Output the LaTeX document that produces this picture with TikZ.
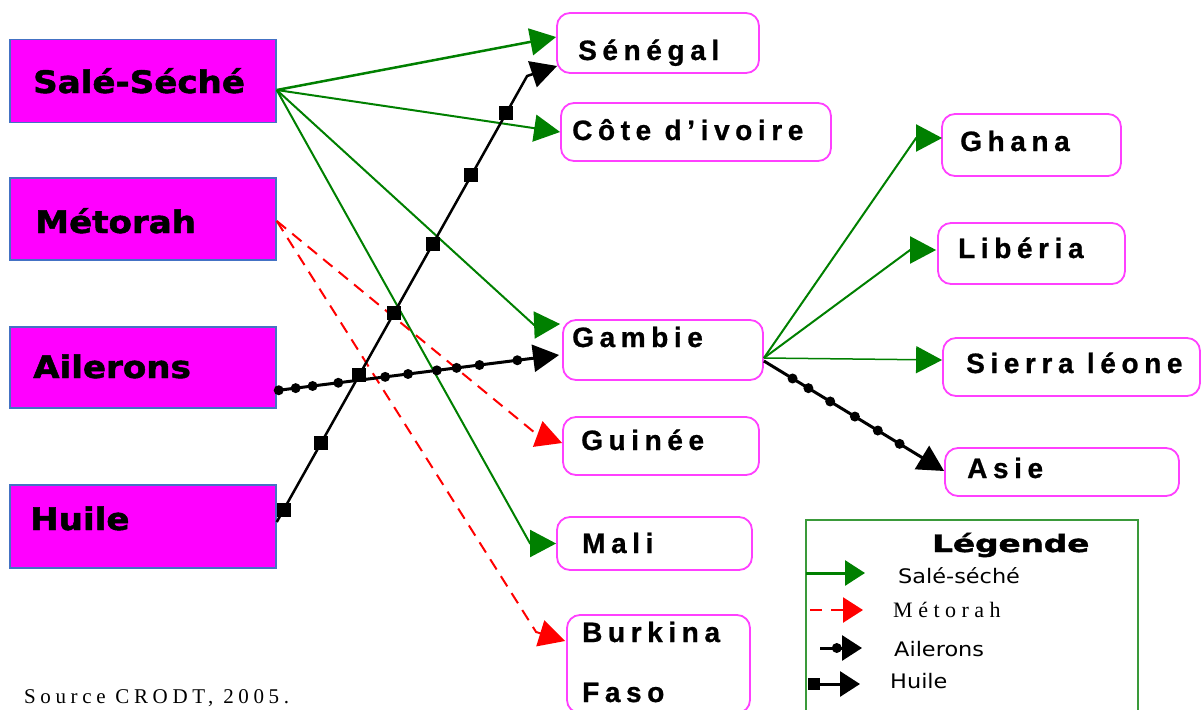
\documentclass[tikz,border=0pt]{standalone}
\usepackage{fontspec}
\usepackage{graphicx}
\usetikzlibrary{arrows.meta,calc}
\newfontfamily\lfont{DejaVu Sans}[BoldFeatures={FakeBold=1.5}]
\newfontfamily\gfont{DejaVu Sans}
\newfontfamily\rfont{Liberation Sans}[LetterSpace=20,BoldFeatures={FakeBold=0.8}]
\newfontfamily\sfont{Liberation Serif}[LetterSpace=22]
\newfontfamily\mfont{Liberation Serif}[LetterSpace=25]
\definecolor{mag}{HTML}{FF00FF}
\definecolor{rmag}{HTML}{FF40FF}
\definecolor{bblue}{HTML}{4472C4}
\definecolor{lgreen}{HTML}{008000}
\definecolor{legg}{HTML}{3A9A3A}
\begin{document}
\begin{tikzpicture}[x=1pt,y=-1pt,
 lbox/.style={draw=bblue, fill=mag, line width=1.5pt, minimum width=266pt, inner sep=0pt},
 rbox/.style={draw=rmag, fill=white, line width=1.8pt, rounded corners=13pt, inner sep=0pt},
 ltext/.style={inner sep=0pt, anchor=base west, font=\lfont\bfseries\fontsize{31pt}{35pt}\selectfont},
 rtext/.style={inner sep=0pt, anchor=base west, font=\rfont\bfseries\fontsize{28pt}{32pt}\selectfont},
 legtext/.style={inner sep=0pt, anchor=base west, font=\gfont\fontsize{20pt}{24pt}\selectfont},
 bighead/.style={-{Triangle[length=26pt,width=27pt]}},
 smallhead/.style={-{Triangle[length=20pt,width=25pt]}},
 gline/.style={draw=lgreen, line width=2pt, line join=round, bighead},
 rline/.style={draw=red, line width=2pt, dash pattern=on 12pt off 8pt, bighead},
 aline/.style={draw=black, line width=3pt, bighead},
 hline/.style={draw=black, line width=2.5pt, line join=round, bighead},
 dotm/.style={circle, fill=black, minimum size=10pt, inner sep=0pt},
 sqm/.style={rectangle, fill=black, minimum size=14pt, inner sep=0pt},
]
\useasboundingbox (0,0) rectangle (1201,709);
\fill[white] (0,0) rectangle (1201,709);

% left boxes
\node[lbox, minimum height=83pt] (sale) at (143,81) {};
\node[lbox, minimum height=82pt] (meto) at (143,219) {};
\node[lbox, minimum height=81pt] (ail) at (143,367.5) {};
\node[lbox, minimum height=83pt] (hui) at (143,526.5) {};

% right boxes
\node[rbox, minimum width=202pt, minimum height=60pt] (sen) at (658,43) {};
\node[rbox, minimum width=270pt, minimum height=58pt] (cot) at (696,132) {};
\node[rbox, minimum width=200pt, minimum height=60pt] (gam) at (663,350) {};
\node[rbox, minimum width=196pt, minimum height=58pt] (gui) at (661,446) {};
\node[rbox, minimum width=195pt, minimum height=53pt] (mal) at (654.5,543.5) {};
\node[rbox, minimum width=183pt, minimum height=98pt] (bur) at (658.5,664) {};
\node[rbox, minimum width=179pt, minimum height=62pt] (gha) at (1031.5,145) {};
\node[rbox, minimum width=187pt, minimum height=61pt] (lib) at (1031.5,253.5) {};
\node[rbox, minimum width=257pt, minimum height=58pt] (sie) at (1071.5,367) {};
\node[rbox, minimum width=234pt, minimum height=48pt] (asi) at (1062,472) {};

% legend box
\node[draw=legg, line width=2pt, minimum width=332pt, minimum height=200pt, inner sep=0pt] (leg) at (972,620) {};

% Salé-Séché connectors
\draw[gline, line width=2.5pt] ($(sale.east)+(0,9)$) -- ($(sen.west)+(0,-6)$);
\draw[gline] ($(sale.east)+(0,9)$) -- (cot.west);
\draw[gline] ($(sale.east)+(0,9)$) -- ($(gam.west)+(-28,-25)$) -- ($(gam.west)+(-2,-26)$);
\draw[gline] ($(sale.east)+(0,9)$) -- ($(mal.west)+(-26,0)$) -- (mal.west);

% Métorah connectors
\draw[rline] ($(meto.east)+(0,2)$) -- ($(gui.west)+(-27,-13)$) -- ($(gui.west)+(0,-3)$);
\draw[rline] ($(meto.east)+(0,2)$) -- ($(bur.west)+(-30,-32)$) -- ($(bur.west)+(-1,-23)$);

% Ailerons connector
\draw[aline] ($(ail.east)+(0,23)$) --
  node[dotm,pos=0.007] (ad1) {}
  node[dotm,pos=0.067] (ad2) {}
  node[dotm,pos=0.127] (ad3) {}
  node[dotm,pos=0.218] (ad4) {}
  node[dotm,pos=0.384] (ad5) {}
  node[dotm,pos=0.465] (ad6) {}
  node[dotm,pos=0.567] (ad7) {}
  node[dotm,pos=0.637] (ad8) {}
  node[dotm,pos=0.718] (ad9) {}
  node[dotm,pos=0.852] (ad10) {}
  ($(gam.west)+(-3,5)$);

% Huile connector
\draw[hline] ($(hui.east)+(0,-4.5)$) --
  node[sqm,pos=0.027] (hq1) {}
  node[sqm,pos=0.178] (hq2) {}
  node[sqm,pos=0.329] (hq3) {}
  node[sqm,pos=0.469] (hq4) {}
  node[sqm,pos=0.624] (hq5) {}
  node[sqm,pos=0.777] (hq6) {}
  node[sqm,pos=0.916] (hq7) {}
  ($(sen.west)+(-29,33)$) -- ($(sen.west)+(1,23)$);

% Gambie connectors
\draw[gline] ($(gam.east)+(0,8)$) -- ($(gha.west)+(-25,-7)$) -- ($(gha.west)+(1,-7)$);
\draw[gline] ($(gam.east)+(0,8)$) -- ($(lib.west)+(-27,-3.5)$) -- ($(lib.west)+(-1,-3.5)$);
\draw[gline, line width=1.5pt] ($(gam.east)+(0,8)$) -- ($(sie.west)+(0,-7)$);
\draw[aline] ($(gam.east)+(0,11)$) --
  node[dotm,pos=0.159] (sd1) {}
  node[dotm,pos=0.247] (sd2) {}
  node[dotm,pos=0.368] (sd3) {}
  node[dotm,pos=0.505] (sd4) {}
  node[dotm,pos=0.632] (sd5) {}
  node[dotm,pos=0.753] (sd6) {}
  ($(asi.west)+(0,-1)$);

% left texts
\node[ltext] (tsale) at (33,93) {\scalebox{1.1}[1]{Salé-Séché}};
\node[ltext] (tmeto) at (35,233) {\scalebox{1.1}[1]{Métorah}};
\node[ltext] (tail) at (33,378) {\scalebox{1.1}[1]{Ailerons}};
\node[ltext] (thui) at (30,530) {\scalebox{1.1}[1]{Huile}};

% right texts
\node[rtext] (tsen) at (578,60) {Sénégal};
\node[rtext] (tcot) at (572,140) {Côte d’ivoire};
\node[rtext] (tgam) at (572,347) {Gambie};
\node[rtext] (tgui) at (581,450) {Guinée};
\node[rtext] (tmal) at (582,553) {Mali};
\node[rtext] (tbur) at (582,642) {Burkina};
\node[rtext] (tfas) at (582,702) {Faso};
\node[rtext] (tgha) at (960,151) {Ghana};
\node[rtext] (tlib) at (958,258) {Libéria};
\node[rtext] (tsie) at (966,373) {Sierra léone};
\node[rtext] (tasi) at (967,478) {Asie};

% legend content
\node[inner sep=0pt, anchor=base west, font=\lfont\bfseries\fontsize{24pt}{28pt}\selectfont] (legt) at (932,552) {\scalebox{1.36}[1]{Légende}};
\coordinate (lg1) at (806,573); \coordinate (lg2) at (865,573);
\draw[draw=lgreen, line width=3pt, smallhead] (lg1) -- (lg2);
\coordinate (lr1) at (810,610); \coordinate (lr2) at (863,610);
\draw[draw=red, line width=2.5pt, dash pattern=on 12pt off 9pt, smallhead] (lr1) -- (lr2);
\coordinate (la1) at (820,648); \coordinate (la2) at (862,648);
\draw[draw=black, line width=3pt, smallhead] (la1) -- node[dotm, pos=0.4] (lad) {} (la2);
\coordinate (lh1) at (814,684); \coordinate (lh2) at (860,684);
\draw[draw=black, line width=3pt, smallhead] (lh1) -- (lh2);
\node[sqm, minimum size=12pt] (lhq) at (lh1) {};
\node[legtext] (lsale) at (898,583) {\scalebox{1.12}[1]{Salé-séché}};
\node[inner sep=0pt, anchor=base west, font=\mfont\fontsize{22pt}{26pt}\selectfont] (lmeto) at (893,617) {Métorah};
\node[legtext] (lail) at (894,656) {\scalebox{1.12}[1]{Ailerons}};
\node[legtext] (lhui) at (890,688) {\scalebox{1.12}[1]{Huile}};

% source
\node[inner sep=0pt, anchor=base west, font=\sfont\fontsize{21pt}{25pt}\selectfont] (src) at (24,703) {Source CRODT, 2005.};
\end{tikzpicture}
\end{document}
